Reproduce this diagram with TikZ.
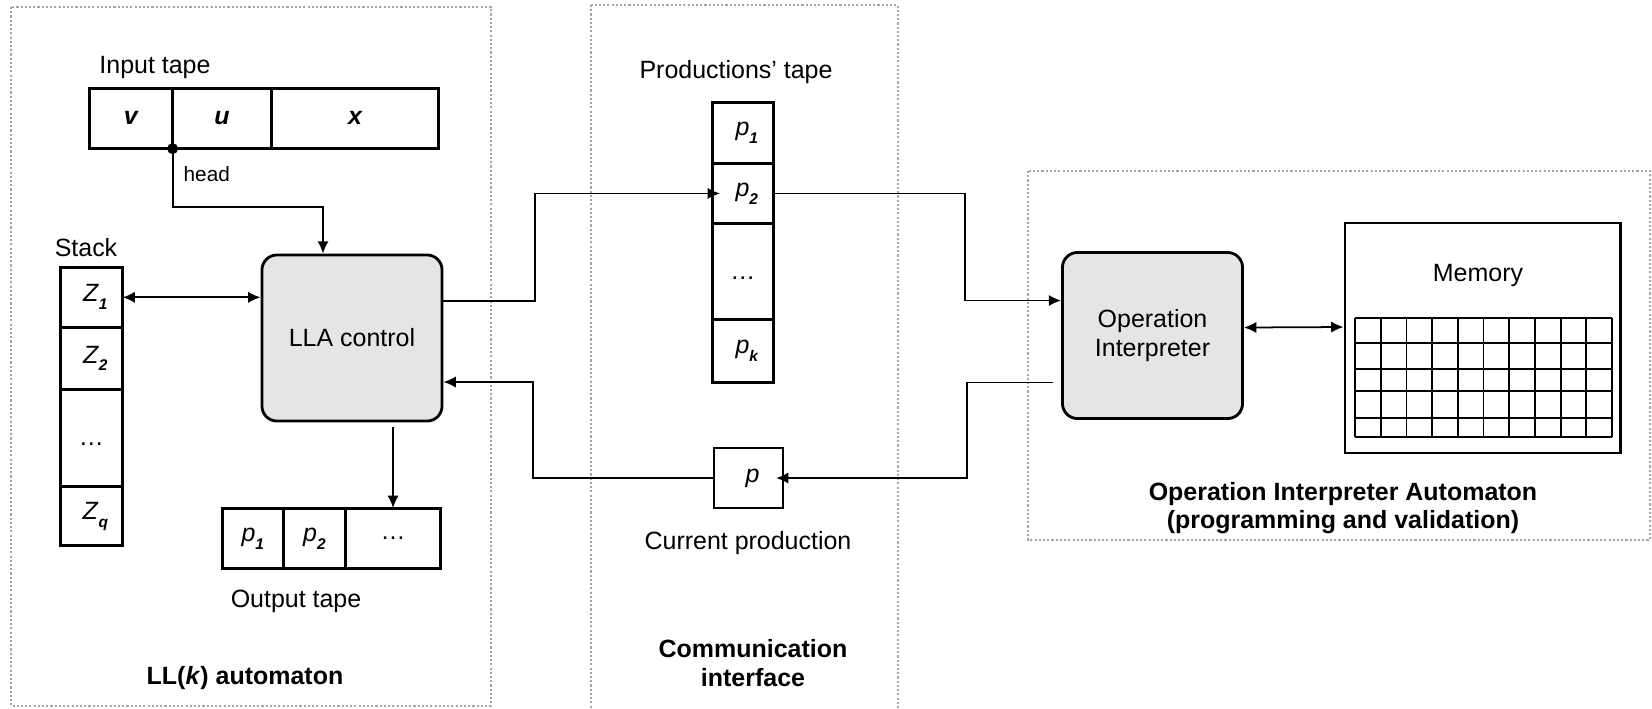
\documentclass[tikz,border=0pt]{standalone}
\usepackage{fontspec}
\setmainfont{Liberation Sans}
\usetikzlibrary{arrows.meta,calc,positioning}

\newcommand{\sym}[2]{\textit{#1}\raisebox{-0.6ex}{\fontsize{4.4}{5}\selectfont\bfseries\itshape #2}}

\begin{document}
\begin{tikzpicture}[x=0.01cm,y=-0.01cm,>={Latex[length=3.5pt,width=3.2pt]},
  every node/.style={inner sep=0pt,font=\fontsize{7.1}{8.4}\selectfont},
  area/.style={draw=gray!70,line width=0.35pt,dash pattern=on 0.6pt off 0.6pt},
  cell/.style={draw,line width=0.45pt,anchor=north west},
  outline/.style={draw,line width=0.8pt},
  ctrl/.style={draw,line width=0.8pt,fill=gray!20,rounded corners=0.15cm,minimum width=1.8cm,minimum height=1.66cm,align=center},
  conn/.style={line width=0.5pt,->},
  title/.style={font=\fontsize{7.1}{8.2}\selectfont\bfseries,align=center}]

\useasboundingbox (0,0) rectangle (1652,708);

% frames
\draw[area] (11,7) rectangle (491,706);
\draw[area] (591,5) rectangle (898,720);
\draw[area] (1028,171) rectangle (1650,540);

% input tape
\node (inlbl) at (155,67) {Input tape};
\node[cell,minimum width=0.82cm,minimum height=0.59cm] (iv) at (89,88) {\bfseries\itshape v};
\node[cell,minimum width=0.97cm,minimum height=0.59cm] (iu) at (iv.north east) {\bfseries\itshape u};
\node[cell,minimum width=1.66cm,minimum height=0.59cm] (ix) at (iu.north east) {\bfseries\itshape x};
\draw[outline] (iv.north west) rectangle (ix.south east);
\fill (iv.south east) circle (5.5);

% stack
\node (stklbl) at (86,248) {Stack};
\node[cell,minimum width=0.61cm,minimum height=0.59cm] (z1) at (60,267) {\hspace{0.08cm}\sym{Z}{1}};
\node[cell,minimum width=0.61cm,minimum height=0.60cm] (z2) at (z1.south west) {\hspace{0.08cm}\sym{Z}{2}};
\node[cell,minimum width=0.61cm,minimum height=0.96cm] (zd) at (z2.south west) {\raisebox{-0.15cm}{\ldots}};
\node[cell,minimum width=0.61cm,minimum height=0.57cm] (zq) at (zd.south west) {\hspace{0.08cm}\sym{Z}{q}};
\draw[outline] (z1.north west) rectangle (zq.south east);

% control
\node[ctrl] (lla) at (352,338) {LLA control};

% output tape
\node[cell,minimum width=0.60cm,minimum height=0.59cm] (o1) at (222,508) {\sym{p}{1}};
\node[cell,minimum width=0.60cm,minimum height=0.59cm] (o2) at (o1.north east) {\sym{p}{2}};
\node[cell,minimum width=0.94cm,minimum height=0.59cm] (od) at (o2.north east) {\ldots};
\draw[outline] (o1.north west) rectangle (od.south east);
\node (outlbl) at (296,601) {Output tape};
\node[title] (llalbl) at (245,678) {LL(\textit{k}) automaton};

% productions tape
\node (prodlbl) at (736,72) {Productions' tape};
\node[cell,minimum width=0.60cm,minimum height=0.60cm] (p1) at (712,102) {\hspace{0.08cm}\sym{p}{1}};
\node[cell,minimum width=0.60cm,minimum height=0.58cm] (p2) at (p1.south west) {\hspace{0.08cm}\sym{p}{2}};
\node[cell,minimum width=0.60cm,minimum height=0.95cm] (pd) at (p2.south west) {\raisebox{-0.15cm}{\ldots}};
\node[cell,minimum width=0.60cm,minimum height=0.61cm] (pk) at (pd.south west) {\hspace{0.08cm}\sym{p}{k}};
\draw[outline] (p1.north west) rectangle (pk.south east);

% current production
\node[draw,line width=0.6pt,minimum width=0.69cm,minimum height=0.60cm] (cur) at (748.5,478) {\hspace{0.08cm}\textit{p}};
\node (curlbl) at (748,543) {Current production};
\node[title] (comlbl) at (753,663) {Communication\\interface};

% interpreter and memory
\node[ctrl] (oi) at (1152.5,335.5) {Operation\\Interpreter};
\node[draw,line width=0.8pt,minimum width=2.75cm,minimum height=2.30cm] (mem) at (1482.5,338) {};
\node (memlbl) at (1478,275) {Memory};
\foreach \gy in {318,343,369,391,418,437}
  \draw[line width=0.5pt] (1355,\gy) -- (1612,\gy);
\foreach \gx in {0,...,10}
  \draw[line width=0.5pt] (1355+25.7*\gx,318) -- (1355+25.7*\gx,437);
\node[title] (oialbl) at (1343,508) {Operation Interpreter Automaton\\(programming and validation)};

% connectors
\coordinate (hb) at (323,207);
\draw[conn] (iv.south east) |- (hb) -- (hb |- lla.north);
\node[anchor=west,font=\fontsize{5.9}{7}\selectfont] (headlbl) at (183,174) {head};
\draw[conn,<->] (z1.east) -- (z1.east -| lla.west);
\coordinate (b1) at (535,250);
\draw[conn,shorten >=-0.08cm] ($(lla.east)+(0,-37)$) -| (b1) |- (p2.west);
\coordinate (b2) at (965,250);
\draw[conn] (p2.east) -| (b2) |- ($(oi.west)+(0,-35)$);
\coordinate (b3) at (967,430);
\draw[conn,shorten >=-0.08cm] ($(oi.west)+(-8,47)$) -| (b3) |- (cur.east);
\coordinate (b4) at (533,430);
\draw[conn] (cur.west) -| (b4) |- ($(lla.east)+(0,44)$);
\draw[conn,shorten <=0.05cm] (lla.south -| od.north) -- (od.north);
\draw[conn,<->] ($(oi.east)+(0,-8)$) -- ($(mem.west)+(0,-11)$);
\end{tikzpicture}
\end{document}
